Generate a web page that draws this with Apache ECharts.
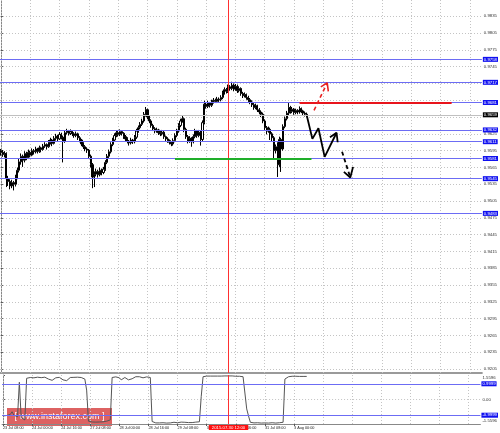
<!DOCTYPE html>
<html><head><meta charset="utf-8">
<script src="https://cdn.jsdelivr.net/npm/echarts@6/dist/echarts.min.js"></script>
<style>html,body{margin:0;padding:0;background:#fff}#c{width:500px;height:433px}</style>
</head><body><div id="c"></div>
<script>
// ---- time axis (H1 bars, bar index 0 = 23 Jul 08:00) ----
const labelBars = [0,16,32,48,64,80,96,112,128,144,160];
const timeLabels = ['23 Jul 08:00','24 Jul 00:00','24 Jul 16:00','27 Jul 08:00','28 Jul 00:00','28 Jul 16:00','29 Jul 08:00','30 Jul 00:00','30 Jul 16:00','31 Jul 08:00','3 Aug 00:00'];
const gridBars = [0,16,32,48,64,80,96,112,128,144,160,176,192,208,224,240,256];
const totalSlots = 263;

// ---- candles ----
const opens = [0.9595,0.9592,0.9588,0.9590,0.9545,0.9540,0.9532,0.9538,0.9535,0.9548,0.9560,0.9575,
0.9585,0.9578,0.9590,0.9583,0.9592,0.9587,0.9595,0.9593,0.9598,0.9594,0.9600,0.9597,
0.9603,0.9606,0.9602,0.9610,0.9614,0.9608,0.9617,0.9621,0.9616,0.9624,0.9619,0.9612,
0.9627,0.9630,0.9626,0.9629,0.9625,0.9622,0.9625,0.9618,0.9614,0.9607,0.9602,0.9598,
0.9596,0.9585,0.9570,0.9548,0.9553,0.9558,0.9552,0.9560,0.9556,0.9562,0.9574,0.9585,
0.9593,0.9606,0.9614,0.9622,0.9627,0.9624,0.9629,0.9626,0.9620,0.9616,0.9612,0.9609,
0.9614,0.9611,0.9619,0.9630,0.9636,0.9642,0.9648,0.9660,0.9668,0.9655,0.9648,0.9640,
0.9634,0.9630,0.9632,0.9627,0.9625,0.9628,0.9620,0.9616,0.9613,0.9610,0.9607,0.9613,
0.9622,0.9630,0.9640,0.9648,0.9652,0.9633,0.9620,0.9612,0.9617,0.9611,0.9620,0.9630,
0.9622,0.9628,0.9615,0.9645,0.9678,0.9674,0.9680,0.9676,0.9682,0.9685,0.9683,0.9687,
0.9686,0.9690,0.9698,0.9704,0.9701,0.9709,0.9706,0.9712,0.9705,0.9710,0.9702,0.9706,
0.9697,0.9693,0.9695,0.9690,0.9686,0.9682,0.9677,0.9672,0.9675,0.9668,0.9664,0.9660,
0.9648,0.9636,0.9630,0.9633,0.9625,0.9618,0.9595,0.9602,0.9570,0.9615,0.9598,0.9638,
0.9652,0.9662,0.9672,0.9665,0.9669,0.9663,0.9667,0.9664,0.9670,0.9666,0.9662,0.9660];
const highs = [0.9598,0.9596,0.9594,0.9592,0.9550,0.9544,0.9543,0.9541,0.9552,0.9565,0.9580,0.9590,
0.9588,0.9594,0.9593,0.9597,0.9595,0.9599,0.9598,0.9602,0.9600,0.9604,0.9602,0.9607,
0.9610,0.9608,0.9614,0.9618,0.9616,0.9621,0.9625,0.9623,0.9628,0.9627,0.9622,0.9631,
0.9634,0.9632,0.9633,0.9631,0.9628,0.9629,0.9627,0.9621,0.9616,0.9610,0.9605,0.9601,
0.9598,0.9588,0.9573,0.9558,0.9563,0.9561,0.9565,0.9563,0.9566,0.9578,0.9589,0.9597,
0.9610,0.9618,0.9626,0.9631,0.9630,0.9633,0.9631,0.9628,0.9623,0.9619,0.9614,0.9618,
0.9616,0.9623,0.9634,0.9640,0.9646,0.9652,0.9664,0.9673,0.9670,0.9658,0.9651,0.9643,
0.9637,0.9636,0.9634,0.9630,0.9632,0.9630,0.9622,0.9619,0.9615,0.9612,0.9617,0.9626,
0.9634,0.9644,0.9652,0.9657,0.9654,0.9636,0.9623,0.9621,0.9619,0.9624,0.9634,0.9632,
0.9632,0.9631,0.9649,0.9684,0.9681,0.9684,0.9682,0.9686,0.9689,0.9688,0.9691,0.9690,
0.9694,0.9702,0.9708,0.9707,0.9713,0.9712,0.9718,0.9715,0.9714,0.9713,0.9710,0.9708,
0.9700,0.9699,0.9697,0.9693,0.9689,0.9685,0.9680,0.9679,0.9677,0.9671,0.9667,0.9663,
0.9651,0.9639,0.9638,0.9636,0.9628,0.9621,0.9606,0.9610,0.9620,0.9618,0.9642,0.9656,
0.9666,0.9680,0.9675,0.9673,0.9671,0.9670,0.9669,0.9674,0.9672,0.9668,0.9665,0.9663];
const lows = [0.9586,0.9584,0.9583,0.9530,0.9532,0.9526,0.9528,0.9524,0.9531,0.9544,0.9556,0.9570,
0.9566,0.9574,0.9578,0.9580,0.9583,0.9585,0.9588,0.9590,0.9590,0.9591,0.9592,0.9595,
0.9600,0.9597,0.9600,0.9606,0.9603,0.9606,0.9613,0.9611,0.9614,0.9615,0.9574,0.9609,
0.9624,0.9622,0.9623,0.9621,0.9618,0.9619,0.9614,0.9610,0.9603,0.9598,0.9594,0.9591,
0.9580,0.9565,0.9528,0.9530,0.9549,0.9547,0.9549,0.9551,0.9553,0.9559,0.9571,0.9582,
0.9590,0.9603,0.9611,0.9619,0.9620,0.9621,0.9622,0.9616,0.9612,0.9608,0.9604,0.9606,
0.9607,0.9608,0.9616,0.9627,0.9633,0.9639,0.9645,0.9656,0.9651,0.9644,0.9636,0.9630,
0.9626,0.9627,0.9623,0.9621,0.9622,0.9616,0.9612,0.9609,0.9606,0.9603,0.9604,0.9610,
0.9619,0.9627,0.9637,0.9645,0.9628,0.9616,0.9608,0.9609,0.9602,0.9608,0.9617,0.9618,
0.9619,0.9604,0.9612,0.9642,0.9670,0.9671,0.9672,0.9673,0.9679,0.9680,0.9680,0.9682,
0.9683,0.9687,0.9695,0.9697,0.9698,0.9702,0.9703,0.9701,0.9702,0.9698,0.9699,0.9693,
0.9689,0.9690,0.9686,0.9682,0.9678,0.9673,0.9668,0.9669,0.9664,0.9660,0.9655,0.9644,
0.9632,0.9624,0.9627,0.9614,0.9612,0.9580,0.9590,0.9548,0.9566,0.9557,0.9595,0.9635,
0.9649,0.9658,0.9661,0.9662,0.9659,0.9660,0.9660,0.9661,0.9662,0.9658,0.9656,0.9655];
const closes = [0.9592,0.9588,0.9590,0.9545,0.9540,0.9532,0.9538,0.9535,0.9548,0.9560,0.9575,0.9585,
0.9578,0.9590,0.9583,0.9592,0.9587,0.9595,0.9593,0.9598,0.9594,0.9600,0.9597,0.9603,
0.9606,0.9602,0.9610,0.9614,0.9608,0.9617,0.9621,0.9616,0.9624,0.9619,0.9612,0.9627,
0.9630,0.9626,0.9629,0.9625,0.9622,0.9625,0.9618,0.9614,0.9607,0.9602,0.9598,0.9596,
0.9585,0.9570,0.9548,0.9553,0.9558,0.9552,0.9560,0.9556,0.9562,0.9574,0.9585,0.9593,
0.9606,0.9614,0.9622,0.9627,0.9624,0.9629,0.9626,0.9620,0.9616,0.9612,0.9609,0.9614,
0.9611,0.9619,0.9630,0.9636,0.9642,0.9648,0.9660,0.9668,0.9655,0.9648,0.9640,0.9634,
0.9630,0.9632,0.9627,0.9625,0.9628,0.9620,0.9616,0.9613,0.9610,0.9607,0.9613,0.9622,
0.9630,0.9640,0.9648,0.9652,0.9633,0.9620,0.9612,0.9617,0.9611,0.9620,0.9630,0.9622,
0.9628,0.9615,0.9645,0.9678,0.9674,0.9680,0.9676,0.9682,0.9685,0.9683,0.9687,0.9686,
0.9690,0.9698,0.9704,0.9701,0.9709,0.9706,0.9712,0.9705,0.9710,0.9702,0.9706,0.9697,
0.9693,0.9695,0.9690,0.9686,0.9682,0.9677,0.9672,0.9675,0.9668,0.9664,0.9660,0.9648,
0.9636,0.9630,0.9633,0.9625,0.9618,0.9595,0.9602,0.9570,0.9615,0.9598,0.9638,0.9652,
0.9662,0.9672,0.9665,0.9669,0.9663,0.9667,0.9664,0.9670,0.9666,0.9662,0.9660,0.9659];

// ---- oscillator (lower window) ----
const oscillator = [-1.05,-1.08,-1.02,-1.10,-0.95,-0.78,-1.00,-1.12,-1.10,
1.10,-1.15,-1.25,-1.30,1.35,
1.42,1.40,1.41,1.38,1.40,1.42,1.41,1.39,1.40,1.42,1.35,1.30,1.25,1.22,1.30,1.38,1.40,1.41,1.39,1.25,1.18,1.20,1.32,1.40,1.42,1.41,1.40,1.42,1.41,1.40,1.38,1.30,
0.60,-1.38,-1.42,-1.43,-1.45,-1.44,-1.45,-1.43,-1.44,-1.42,-1.40,-1.38,-1.35,-1.30,
1.40,1.45,1.44,1.40,1.38,1.25,1.30,1.40,1.38,1.25,1.22,1.32,1.38,1.45,1.46,1.45,1.42,1.38,1.40,1.44,1.45,1.40,
-1.40,
-1.48,-1.49,-1.50,-1.49,-1.50,-1.48,-1.49,-1.50,-1.50,-1.49,-1.47,-1.45,-1.47,-1.48,-1.46,-1.44,-1.42,-1.45,-1.48,-1.47,-1.45,-1.47,-1.45,-1.44,-1.45,-1.42,
0.20,
1.45,1.48,1.49,1.48,1.49,1.50,1.49,1.48,1.49,1.50,1.49,1.50,1.50,1.49,1.50,1.50,1.50,1.49,1.48,1.49,1.48,1.47,1.45,1.40,
-0.60,-1.05,
-1.45,-1.48,-1.49,-1.50,-1.48,-1.49,-1.50,-1.50,-1.49,-1.50,-1.50,-1.49,-1.48,-1.49,-1.50,-1.50,-1.48,-1.47,-1.45,
1.30,1.40,1.45,1.47,1.48,1.47,1.48,1.48,1.47,1.48,1.47,1.48,1.47];
const oscRange = [-1.5596, 1.5596];
const oscTicks = [1.5596, 0, -1.5596];
const oscLevels = [0.9999, -0.9999];

// ---- price scale ----
const priceRange = [0.9198, 0.9864];
const priceGrid = [0.9835,0.9805,0.9775,0.9745,0.9715,0.9685,0.9655,0.9625,0.9595,0.9565,0.9535,0.9505,0.9475,0.9445,0.9415,0.9385,0.9355,0.9325,0.9295,0.9265,0.9235,0.9205];
const priceTickLabels = [0.9835,0.9805,0.9775,0.9745,0.9625,0.9595,0.9565,0.9535,0.9505,0.9475,0.9445,0.9415,0.9385,0.9355,0.9325,0.9295,0.9265,0.9235,0.9205];
const levels = [0.9758,0.9717,0.9681,0.9632,0.9611,0.9581,0.9545,0.9483];
const currentPrice = 0.9659;
const cursorBar = 124;
const cursorLabel = '2015.07.30 12:00';

// ---- drawn analysis objects (bar index, price) ----
const resistanceLine = [[163,0.9681],[246,0.9681]];
const supportLine = [[95,0.9581],[169.5,0.9581]];
const mainPath = [[167,0.9657],[170,0.9616],[173.3,0.9635],[176.7,0.9584],[183.2,0.9627]];
const mainHead = [[179.6,0.9619],[183.2,0.9627],[183.8,0.9610]];
const downPath = [[186.2,0.9593],[190.7,0.9547]];
const downHead = [[187.2,0.9557],[190.7,0.9547],[192.2,0.9566]];
const upPath = [[170.9,0.9667],[178.1,0.9716]];
const upHead = [[174.6,0.9709],[178.1,0.9716],[178.7,0.9701]];

const FONT = 'Liberation Sans';
const candleData = opens.map((o, i) => [i, o, closes[i], lows[i], highs[i]]);
const oscData = oscillator.map((v, i) => [i, v]);

const chart = echarts.init(document.getElementById('c'), null, {renderer: 'canvas'});

const dotted = {color: '#c4c4c4', type: [1, 2], width: 1};
const mlBase = {silent: true, symbol: 'none', animation: false, precision: 6};

function lineSeries(data, color, type, width) {
  return {type: 'line', xAxisIndex: 0, yAxisIndex: 0, data: data, symbol: 'none', silent: true,
    lineStyle: {color: color, type: type, width: width}, z: 6, animation: false};
}
function levelLabel(text, bg) {
  return {show: true, position: 'end', distance: 1, formatter: text, backgroundColor: bg,
    color: '#fff', fontSize: 4.3, fontFamily: FONT, padding: [1, 1, 0, 1]};
}

const option = {
  animation: false,
  backgroundColor: '#ffffff',
  textStyle: {fontFamily: FONT},
  grid: [
    {left: 0, right: 14, top: 0, height: 373},
    {left: 0, right: 14, top: 375, height: 49}
  ],
  xAxis: [
    {gridIndex: 0, type: 'value', min: -0.5, max: totalSlots - 0.5,
      axisLine: {show: true, onZero: false, lineStyle: {color: '#9a9a9a', width: 2}},
      axisTick: {show: false}, axisLabel: {show: false}, splitLine: {show: false}},
    {gridIndex: 1, type: 'value', min: -0.5, max: totalSlots - 0.5,
      axisLine: {show: true, onZero: false, lineStyle: {color: '#888'}},
      axisTick: {show: true, customValues: labelBars, length: 2, lineStyle: {color: '#555'}},
      axisLabel: {customValues: labelBars, fontSize: 3.8, color: '#222', align: 'left', margin: 2, fontFamily: FONT,
        formatter: v => timeLabels[labelBars.indexOf(Math.round(v))] || ''},
      splitLine: {show: false}}
  ],
  yAxis: [
    {gridIndex: 0, type: 'value', position: 'right', min: priceRange[0], max: priceRange[1],
      axisLine: {show: true, lineStyle: {color: '#888'}},
      axisTick: {show: true, customValues: priceTickLabels, length: 2, lineStyle: {color: '#555'}},
      axisLabel: {customValues: priceTickLabels, fontSize: 4.3, color: '#333', margin: 2, fontFamily: FONT,
        formatter: v => v.toFixed(4)},
      splitLine: {show: false}},
    {gridIndex: 1, type: 'value', position: 'right', min: oscRange[0], max: oscRange[1],
      axisLine: {show: true, lineStyle: {color: '#888'}},
      axisTick: {show: true, customValues: oscTicks, length: 2, lineStyle: {color: '#555'}},
      axisLabel: {customValues: oscTicks, fontSize: 4.3, color: '#333', margin: 2, fontFamily: FONT,
        formatter: v => (v === 0 ? '0.00' : (v > 0 ? '{t|' + v.toFixed(4) + '}' : '{b|' + v.toFixed(4) + '}')),
        rich: {t: {fontSize: 4.3, color: '#333', padding: [6, 0, 0, 0]}, b: {fontSize: 4.3, color: '#333', padding: [0, 0, 6, 0]}}},
      splitLine: {show: false}}
  ],
  series: [
    // grid lines main
    {type: 'line', xAxisIndex: 0, yAxisIndex: 0, data: [], z: 1,
      markLine: Object.assign({}, mlBase, {z: 1, label: {show: false}, lineStyle: dotted,
        data: priceGrid.map(v => ({yAxis: v})).concat(gridBars.map(b => ({xAxis: b})))})},
    // candles
    {type: 'candlestick', xAxisIndex: 0, yAxisIndex: 0, data: candleData, z: 2, barWidth: 1.6,
      itemStyle: {color: '#ffffff', color0: '#000000', borderColor: '#000000', borderColor0: '#000000', borderWidth: 1}},
    // levels and objects
    {type: 'line', xAxisIndex: 0, yAxisIndex: 0, data: [], z: 5,
      markLine: Object.assign({}, mlBase, {z: 5,
        data: levels.map(v => ({yAxis: v, lineStyle: {color: '#6c6cf4', width: 1, type: 'solid'},
          label: levelLabel(v.toFixed(4), '#1010f0')}))
          .concat([{yAxis: currentPrice, lineStyle: {color: '#c0c0c0', width: 1, type: 'solid'},
            label: levelLabel(currentPrice.toFixed(4), '#000')},
            {xAxis: cursorBar, lineStyle: {color: '#ff3030', width: 1, type: 'solid'}, label: {show: false}},
            [{coord: resistanceLine[0], lineStyle: {color: '#e8141c', width: 2, type: 'solid'}, label: {show: false}}, {coord: resistanceLine[1]}],
            [{coord: supportLine[0], lineStyle: {color: '#1fae2a', width: 2, type: 'solid'}, label: {show: false}}, {coord: supportLine[1]}]
          ])})},
    lineSeries(mainPath, '#000', 'solid', 1.8),
    lineSeries(mainHead, '#000', 'solid', 1.8),
    lineSeries(downPath, '#000', [4, 3], 1.8),
    lineSeries(downHead, '#000', 'solid', 1.8),
    lineSeries(upPath, '#e82020', [4, 3], 1.6),
    lineSeries(upHead, '#e82020', 'solid', 1.6),
    // oscillator
    {type: 'line', xAxisIndex: 1, yAxisIndex: 1, data: oscData, symbol: 'none', z: 3,
      lineStyle: {color: '#555', width: 1}},
    {type: 'line', xAxisIndex: 1, yAxisIndex: 1, data: [], z: 1,
      markLine: Object.assign({}, mlBase, {z: 1, label: {show: false}, lineStyle: dotted,
        data: [{yAxis: 0}].concat(gridBars.map(b => ({xAxis: b})))})},
    {type: 'line', xAxisIndex: 1, yAxisIndex: 1, data: [], z: 5,
      markLine: Object.assign({}, mlBase, {z: 5,
        data: oscLevels.map(v => ({yAxis: v, lineStyle: {color: '#6c6cf4', width: 1, type: 'solid'},
          label: levelLabel(v.toFixed(4), '#1010f0')}))
          .concat([{xAxis: cursorBar, lineStyle: {color: '#ff3030', width: 1, type: 'solid'},
            label: {show: true, position: 'start', distance: 1, formatter: cursorLabel, backgroundColor: '#ff1010',
              color: '#fff', fontSize: 4.3, fontFamily: FONT, padding: [1, 3, 0, 3]}}])})}
  ],
  graphic: [
    {type: 'group', left: 7, top: 408, children: [
      {type: 'rect', shape: {x: 0, y: 0, width: 105, height: 18}, style: {fill: 'rgba(214,64,64,0.82)'}},
      {type: 'text', x: 52.5, y: 9, style: {text: '[ www.instaforex.com ]', fill: '#fff', font: '9px "Liberation Sans"', align: 'center', verticalAlign: 'middle'}}
    ]}
  ]
};
chart.setOption(option);
</script>
</body></html>
